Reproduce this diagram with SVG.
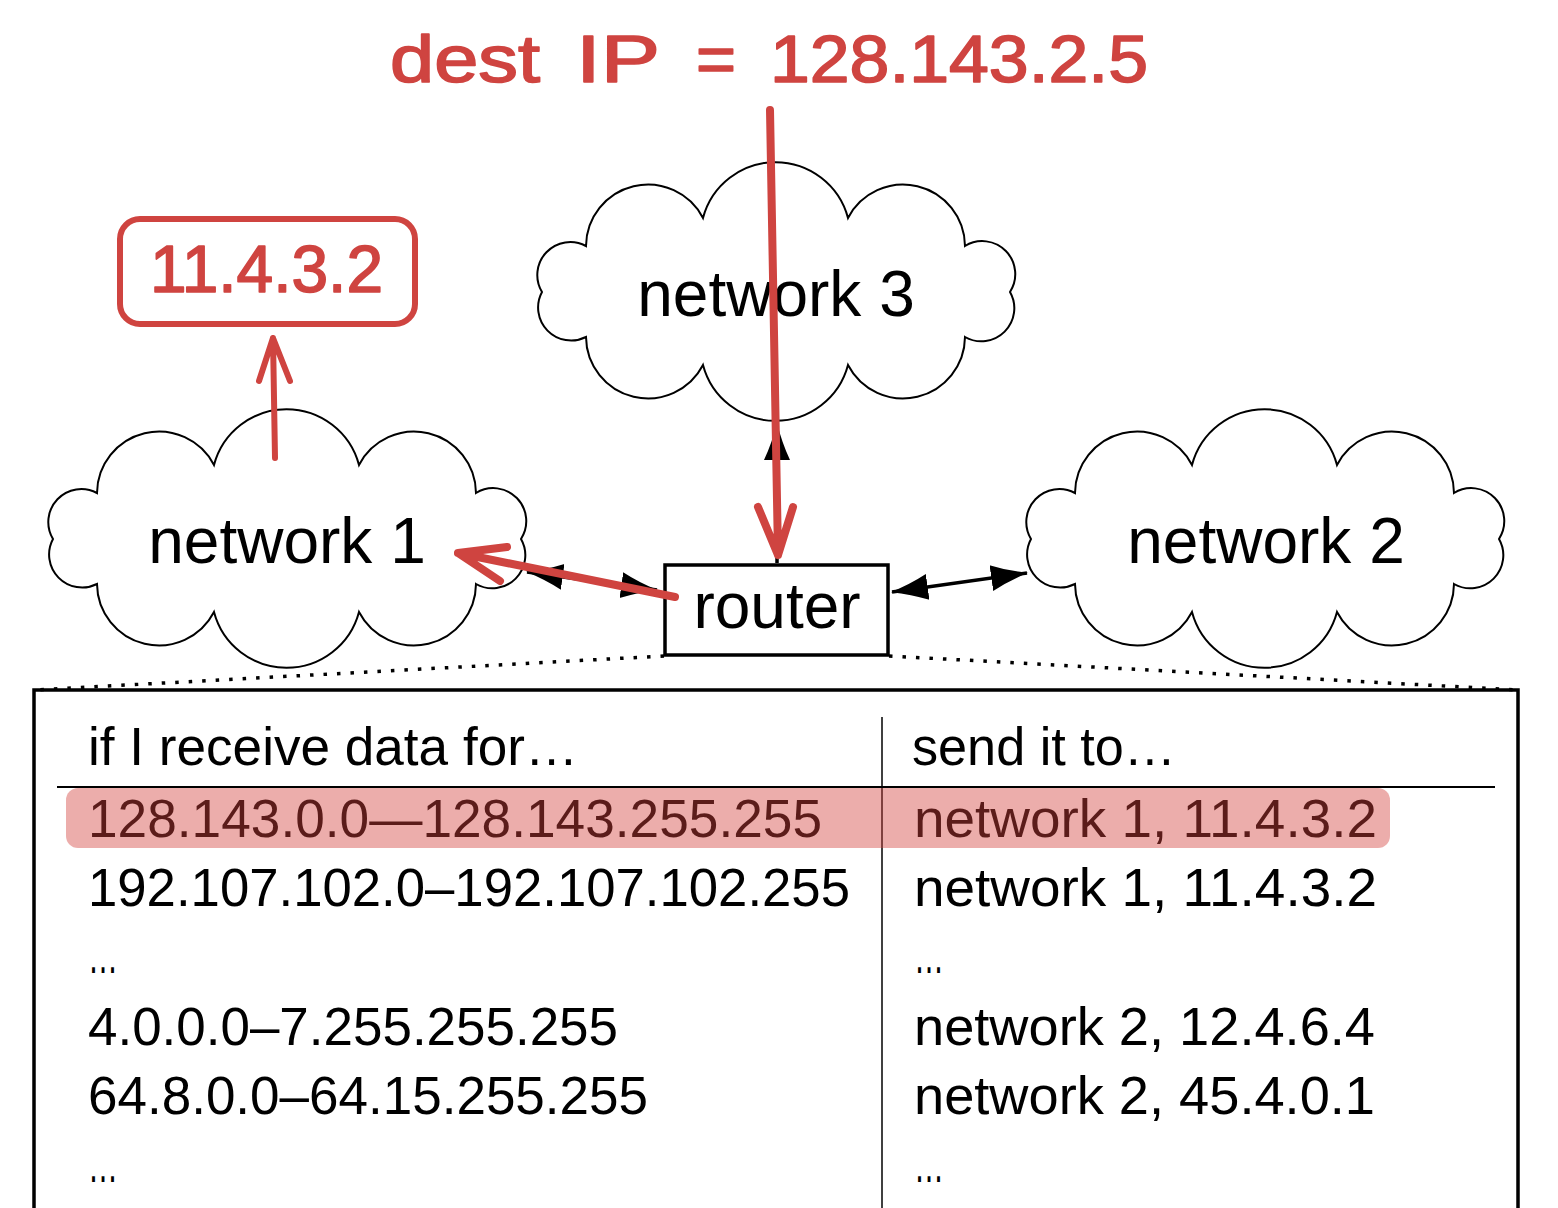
<svg xmlns="http://www.w3.org/2000/svg" width="1558" height="1208" viewBox="0 0 1558 1208">
  <style>
    .cloud { fill: #ffffff; stroke: #000000; stroke-width: 2; }
    .lbl { font-family: "Liberation Sans", Arial, sans-serif; font-size: 64px; fill: #000000; }
    .tbl { font-family: "Liberation Sans", Arial, sans-serif; font-size: 54px; fill: #000000; }
    .blk { stroke: #000000; stroke-width: 3.5; fill: none; }
    .dot { stroke: #000000; stroke-width: 3.5; fill: none; stroke-dasharray: 3.5 10; }
    .red { stroke: #cf4440; fill: none; stroke-linecap: round; stroke-linejoin: round; }
    .redtxt { font-family: "Liberation Sans", Arial, sans-serif; fill: #cf4440; stroke: #cf4440; stroke-width: 1.6; stroke-linejoin: round; }
  </style>
  <defs>
    <path id="cloudShape" d="M -190 -46 A 62 62 0 0 1 -73 -74 A 75 75 0 0 1 72 -74 A 62 62 0 0 1 189 -46 A 33 33 0 0 1 234 0 A 33 33 0 0 1 189 45 A 62 62 0 0 1 72 73 A 75 75 0 0 1 -73 73 A 62 62 0 0 1 -190 45 A 33 33 0 0 1 -234 0 A 33 33 0 0 1 -190 -46 Z"/>
    <marker id="ah" viewBox="0 -14 38 28" markerWidth="38" markerHeight="28" refX="36" refY="0" orient="auto-start-reverse" markerUnits="userSpaceOnUse">
      <path d="M37,0 Q17,-5 0,-13 L0,13 Q17,5 37,0 Z" fill="#000000"/>
    </marker>
  </defs>
  <rect width="1558" height="1208" fill="#ffffff"/>

  <g id="network3">
    <use href="#cloudShape" class="cloud" transform="translate(776,292)"/>
    <text class="lbl" x="776" y="316" text-anchor="middle">network 3</text>
  </g>
  <g id="network1">
    <use href="#cloudShape" class="cloud" transform="translate(287,539)"/>
    <text class="lbl" x="287" y="563" text-anchor="middle">network 1</text>
  </g>
  <g id="network2">
    <use href="#cloudShape" class="cloud" transform="translate(1265,539)"/>
    <text class="lbl" x="1266" y="563" text-anchor="middle">network 2</text>
  </g>
  <g id="router">
    <rect x="665" y="565" width="223" height="90" fill="#ffffff" stroke="#000000" stroke-width="3.5"/>
    <text class="lbl" x="777" y="628" text-anchor="middle">router</text>
  </g>

  <g id="routing-table">
    <path d="M34 1210 L34 690 L1518 690 L1518 1210" fill="none" stroke="#000000" stroke-width="3.5"/>
    <line x1="57" y1="787" x2="1495" y2="787" stroke="#000000" stroke-width="2"/>
    <line x1="882" y1="717" x2="882" y2="1210" stroke="#000000" stroke-width="1.5"/>
    <text class="tbl" x="88" y="765" textLength="490" lengthAdjust="spacingAndGlyphs">if I receive data for…</text>
    <text class="tbl" x="912" y="765" textLength="264" lengthAdjust="spacingAndGlyphs">send it to…</text>
    <text class="tbl" x="88" y="837" textLength="734" lengthAdjust="spacingAndGlyphs">128.143.0.0—128.143.255.255</text>
    <text class="tbl" x="914" y="837" textLength="463" lengthAdjust="spacingAndGlyphs">network 1, 11.4.3.2</text>
    <text class="tbl" x="88" y="906" textLength="762" lengthAdjust="spacingAndGlyphs">192.107.102.0–192.107.102.255</text>
    <text class="tbl" x="914" y="906" textLength="463" lengthAdjust="spacingAndGlyphs">network 1, 11.4.3.2</text>
    <text class="tbl" x="88" y="973" textLength="30" lengthAdjust="spacingAndGlyphs">…</text>
    <text class="tbl" x="914" y="973" textLength="30" lengthAdjust="spacingAndGlyphs">…</text>
    <text class="tbl" x="88" y="1045" textLength="530" lengthAdjust="spacingAndGlyphs">4.0.0.0–7.255.255.255</text>
    <text class="tbl" x="914" y="1045" textLength="461" lengthAdjust="spacingAndGlyphs">network 2, 12.4.6.4</text>
    <text class="tbl" x="88" y="1114" textLength="560" lengthAdjust="spacingAndGlyphs">64.8.0.0–64.15.255.255</text>
    <text class="tbl" x="914" y="1114" textLength="461" lengthAdjust="spacingAndGlyphs">network 2, 45.4.0.1</text>
    <text class="tbl" x="88" y="1182" textLength="30" lengthAdjust="spacingAndGlyphs">…</text>
    <text class="tbl" x="914" y="1182" textLength="30" lengthAdjust="spacingAndGlyphs">…</text>
    <rect id="highlight" x="66" y="788" width="1324" height="60" rx="12" fill="#d2423c" fill-opacity="0.43"/>
  </g>

  <g id="connectors">
    <line class="dot" x1="664" y1="656" x2="34" y2="690"/>
    <line class="dot" x1="889" y1="656" x2="1518" y2="690"/>
    <line class="blk" x1="527" y1="572" x2="657" y2="590" marker-start="url(#ah)" marker-end="url(#ah)"/>
    <line class="blk" x1="892" y1="592" x2="1027" y2="573" marker-start="url(#ah)" marker-end="url(#ah)"/>
    <line class="blk" x1="777" y1="563" x2="777" y2="424" marker-end="url(#ah)"/>
  </g>

  <g id="annotations">
    <g id="dest-ip-label" class="redtxt" font-size="66">
      <text x="390" y="82" textLength="150" lengthAdjust="spacingAndGlyphs">dest</text>
      <text x="576" y="82" textLength="84" lengthAdjust="spacingAndGlyphs">IP</text>
      <text x="696" y="82" textLength="40" lengthAdjust="spacingAndGlyphs">=</text>
      <text x="770" y="82" textLength="378" lengthAdjust="spacingAndGlyphs">128.143.2.5</text>
    </g>
    <g id="ip-box">
      <rect x="120" y="219" width="295" height="105" rx="20" fill="none" stroke="#cf4440" stroke-width="6"/>
      <text class="redtxt" x="150" y="292" font-size="66" textLength="233" lengthAdjust="spacingAndGlyphs">11.4.3.2</text>
    </g>
    <g id="red-arrows">
      <path class="red" stroke-width="6" d="M275 458 L273 338 M259 381 L273 338 L290 381"/>
      <path class="red" stroke-width="8" d="M770 110 L778 555 M758 507 L778 555 L793 507"/>
      <path class="red" stroke-width="8" d="M675 597 L458 553 M507 547 L458 553 L500 581"/>
    </g>
  </g>
</svg>
